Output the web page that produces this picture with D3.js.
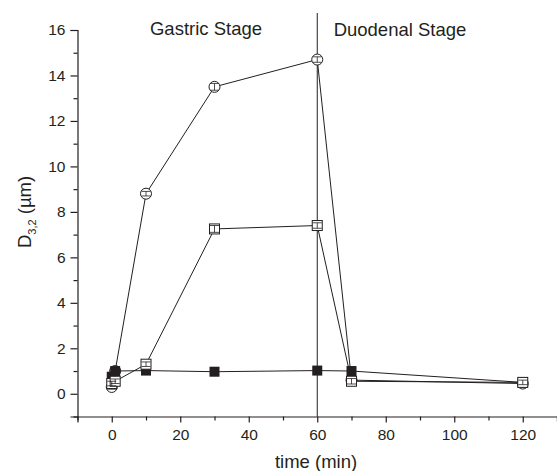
<!DOCTYPE html>
<html>
<head>
<meta charset="utf-8">
<script src="https://cdn.jsdelivr.net/npm/d3@7"></script>
<style>
  html, body { margin: 0; padding: 0; background: #fff; }
  svg text { font-family: 'Liberation Sans', Arial, sans-serif; fill: #231f20; }
</style>
</head>
<body>
<div id="chart"></div>
<script>
// time points (min)
var times = [0, 1, 10, 30, 60, 70, 120];

// D3,2 values per series
var filledSq = [0.75, 1.0, 1.02, 0.97, 1.02, 1.0, 0.5];
var openCirc = [0.3, 1.0, 8.8, 13.5, 14.7, 0.6, 0.45];
var openSq   = [0.45, 0.55, 1.3, 7.25, 7.4, 0.55, 0.5];
// small error bars (hidden mostly inside markers)
var circErr  = [0.1, 0.1, 0.1, 0.15, 0.12, 0.12, 0.1];
var sqErr    = [0.1, 0.1, 0.1, 0.15, 0.12, 0.12, 0.1];

var xTicks = [0, 20, 40, 60, 80, 100, 120];
var yTicks = [0, 2, 4, 6, 8, 10, 12, 14, 16];
var stageLine = 60;

var W = 557, H = 471;
var svg = d3.select('#chart').append('svg')
  .attr('width', W).attr('height', H);

var x = d3.scaleLinear().domain([-10, 130]).range([77.5, 557]);
var y = d3.scaleLinear().domain([-1, 16]).range([416.5, 30]);

var ink = '#231f20';

// axes
var xAxis = d3.axisBottom(x).tickValues(xTicks).tickSize(6).tickPadding(6);
var xMinor = d3.axisBottom(x).tickValues(d3.range(-10, 131, 10).filter(function(v) { return xTicks.indexOf(v) < 0; }))
  .tickSize(4).tickFormat('');
var yAxis = d3.axisLeft(y).tickValues(yTicks).tickSize(7).tickPadding(5);
var yMinor = d3.axisLeft(y).tickValues(d3.range(-1, 16, 1).filter(function(v) { return yTicks.indexOf(v) < 0; }))
  .tickSize(4).tickFormat('');

function styleAxis(g) {
  g.selectAll('path, line').attr('stroke', ink).attr('stroke-width', 1.2);
  g.selectAll('text').attr('font-size', '15.5px').style('font-family', "'Liberation Sans', Arial, sans-serif").attr('fill', ink);
}

svg.append('g').attr('transform', 'translate(0,' + y(-1) + ')').call(xAxis).call(styleAxis);
svg.append('g').attr('transform', 'translate(0,' + y(-1) + ')').call(xMinor).call(styleAxis)
  .select('.domain').remove();
svg.append('g').attr('transform', 'translate(' + x(-10) + ',0)').call(yAxis).call(styleAxis);
svg.append('g').attr('transform', 'translate(' + x(-10) + ',0)').call(yMinor).call(styleAxis)
  .select('.domain').remove();

// stage divider
svg.append('line')
  .attr('x1', x(stageLine)).attr('x2', x(stageLine))
  .attr('y1', 13).attr('y2', y(-1))
  .attr('stroke', ink).attr('stroke-width', 1);

svg.append('text').attr('x', 206).attr('y', 35).attr('text-anchor', 'middle')
  .attr('font-size', '18.5px').text('Gastric Stage');
svg.append('text').attr('x', 400).attr('y', 36).attr('text-anchor', 'middle')
  .attr('font-size', '18.5px').text('Duodenal Stage');

// axis titles
svg.append('text').attr('x', 316).attr('y', 468).attr('text-anchor', 'middle')
  .attr('font-size', '18.5px').text('time (min)');
var yl = svg.append('text').attr('transform', 'translate(31,212) rotate(-90)')
  .attr('text-anchor', 'middle').attr('font-size', '18.5px');
yl.append('tspan').text('D');
yl.append('tspan').attr('font-size', '11px').attr('dy', 5).text('3,2');
yl.append('tspan').attr('dy', -5).text(' (µm)');

var line = d3.line()
  .x(function(d) { return x(d[0]); })
  .y(function(d) { return y(d[1]); });

function pairs(vals) { return times.map(function(t, i) { return [t, vals[i]]; }); }

[openCirc, openSq, filledSq].forEach(function(vals) {
  svg.append('path').datum(pairs(vals))
    .attr('d', line).attr('fill', 'none')
    .attr('stroke', ink).attr('stroke-width', 1);
});

function errBars(vals, errs, capW) {
  var g = svg.append('g').attr('stroke', ink).attr('stroke-width', 0.8);
  times.forEach(function(t, i) {
    var cx = x(t), y0 = y(vals[i] - errs[i]), y1 = y(vals[i] + errs[i]);
    g.append('line').attr('x1', cx).attr('x2', cx).attr('y1', y0).attr('y2', y1);
    g.append('line').attr('x1', cx - capW).attr('x2', cx + capW).attr('y1', y0).attr('y2', y0);
    g.append('line').attr('x1', cx - capW).attr('x2', cx + capW).attr('y1', y1).attr('y2', y1);
  });
}

// open circles
svg.append('g').selectAll('circle').data(pairs(openCirc)).enter().append('circle')
  .attr('cx', function(d) { return x(d[0]); })
  .attr('cy', function(d) { return y(d[1]); })
  .attr('r', 5.5)
  .attr('fill', '#fff').attr('stroke', ink).attr('stroke-width', 1);
errBars(openCirc, circErr, 4.5);

// filled squares
svg.append('g').selectAll('rect').data(pairs(filledSq)).enter().append('rect')
  .attr('x', function(d) { return x(d[0]) - 5; })
  .attr('y', function(d) { return y(d[1]) - 5; })
  .attr('width', 10).attr('height', 10)
  .attr('fill', ink);

// open squares
svg.append('g').selectAll('rect').data(pairs(openSq)).enter().append('rect')
  .attr('x', function(d) { return x(d[0]) - 5; })
  .attr('y', function(d) { return y(d[1]) - 5; })
  .attr('width', 10).attr('height', 10)
  .attr('fill', '#fff').attr('stroke', ink).attr('stroke-width', 1);
errBars(openSq, sqErr, 4.5);
</script>
</body>
</html>
